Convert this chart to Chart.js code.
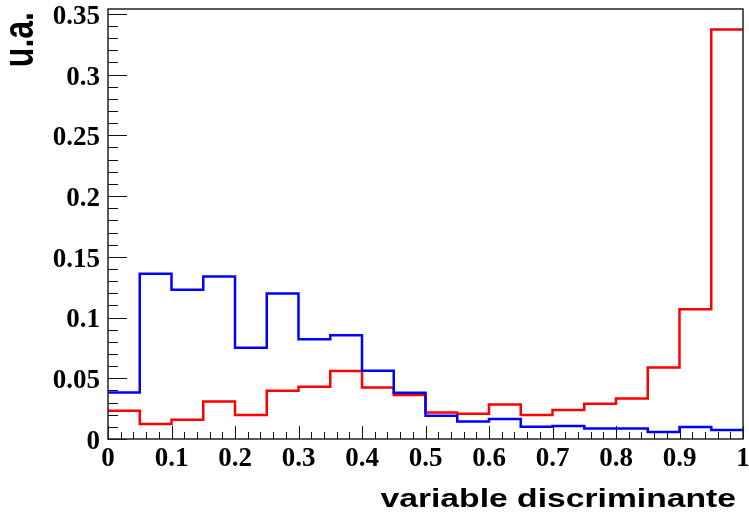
<!DOCTYPE html>
<html>
<head>
<meta charset="utf-8">
<script src="https://cdn.jsdelivr.net/npm/chart.js@4.4.1/dist/chart.umd.min.js"></script>
<style>
  html, body { margin: 0; padding: 0; background: #fff; }
</style>
</head>
<body>
<canvas id="histChart" width="749" height="512"></canvas>
<script>
// lower edges of the 20 bins, 0 -> 1
const binLow = [0, 0.05, 0.1, 0.15, 0.2, 0.25, 0.3, 0.35, 0.4, 0.45,
                0.5, 0.55, 0.6, 0.65, 0.7, 0.75, 0.8, 0.85, 0.9, 0.95];
const binHigh = 1;

// red histogram
const redValues = [0.0233, 0.0123, 0.0159, 0.0309, 0.0197, 0.0397, 0.0430, 0.0559, 0.0424, 0.0362,
                   0.0219, 0.0208, 0.0285, 0.0197, 0.0238, 0.0290, 0.0334, 0.0589, 0.1069, 0.3372];
// blue histogram
const blueValues = [0.0383, 0.1360, 0.1228, 0.1337, 0.0751, 0.1197, 0.0822, 0.0855, 0.0562, 0.0381,
                    0.0192, 0.0145, 0.0164, 0.0101, 0.0107, 0.0087, 0.0087, 0.0058, 0.0099, 0.0074];

const xTicks = [0, 0.1, 0.2, 0.3, 0.4, 0.5, 0.6, 0.7, 0.8, 0.9, 1];
const yTicks = [0, 0.05, 0.1, 0.15, 0.2, 0.25, 0.3, 0.35];

const xTitle = 'variable discriminante';
const yTitle = 'u.a.';

// histogram as step line: one point per bin low edge + closing point at upper edge
const toSteps = (vals) => binLow.map((x, i) => ({ x, y: vals[i] }))
  .concat([{ x: binHigh, y: vals[vals.length - 1] }]);

const tickFont = { family: '"Liberation Serif", "DejaVu Serif", serif', size: 27, weight: 'bold' };

// ROOT style frame, inner ticks and axis titles
const rootFrame = {
  id: 'rootFrame',
  beforeDatasetsDraw(chart) {
    const { ctx, chartArea: a, scales: { x, y } } = chart;
    ctx.save();
    ctx.strokeStyle = '#111';
    ctx.lineWidth = 1;
    ctx.beginPath();
    for (let i = 0; i <= 35; i++) {
      const py = Math.round(y.getPixelForValue(i / 100)) + 0.5;
      const len = i % 5 === 0 ? 19 : 10;
      ctx.moveTo(a.left, py);
      ctx.lineTo(a.left + len, py);
    }
    for (let i = 0; i <= 50; i++) {
      const px = Math.round(x.getPixelForValue(i / 50)) + 0.5;
      const len = i % 5 === 0 ? 13 : 7;
      ctx.moveTo(px, a.bottom);
      ctx.lineTo(px, a.bottom - len);
    }
    ctx.stroke();
    ctx.restore();
  },
  afterDatasetsDraw(chart) {
    const { ctx, chartArea: a } = chart;
    ctx.save();
    ctx.strokeStyle = '#222';
    ctx.lineWidth = 1.5;
    ctx.strokeRect(a.left, a.top, a.right - a.left, a.bottom - a.top);
    ctx.restore();

    // titles come out wide in the original, stretch them sideways
    ctx.save();
    ctx.fillStyle = '#000';
    ctx.textAlign = 'right';
    ctx.textBaseline = 'alphabetic';
    ctx.font = 'bold 26px "Liberation Sans", Arial, sans-serif';
    ctx.translate(736, 507);
    ctx.scale(1.295, 1);
    ctx.fillText(xTitle, 0, 0);
    ctx.restore();

    ctx.save();
    ctx.fillStyle = '#000';
    ctx.textAlign = 'right';
    ctx.textBaseline = 'alphabetic';
    ctx.font = 'bold 32px "Liberation Sans", Arial, sans-serif';
    ctx.translate(33, 12);
    ctx.scale(1.3, 1);
    ctx.rotate(-Math.PI / 2);
    ctx.fillText(yTitle, 0, 0);
    ctx.restore();
  }
};

new Chart(document.getElementById('histChart'), {
  type: 'line',
  data: {
    datasets: [
      {
        label: 'blue',
        data: toSteps(blueValues),
        borderColor: '#0000ff',
        borderWidth: 2.5,
        stepped: 'before',
        pointRadius: 0,
        fill: false
      },
      {
        label: 'red',
        data: toSteps(redValues),
        borderColor: '#ff0000',
        borderWidth: 2.5,
        stepped: 'before',
        pointRadius: 0,
        fill: false
      }
    ]
  },
  options: {
    responsive: false,
    animation: false,
    layout: { padding: { left: 0, top: 9, right: 6, bottom: 0 } },
    plugins: {
      legend: { display: false },
      tooltip: { enabled: false }
    },
    scales: {
      x: {
        type: 'linear',
        min: 0,
        max: 1,
        afterBuildTicks: (scale) => { scale.ticks = xTicks.map((v) => ({ value: v })); },
        afterFit: (scale) => {
          scale.height = 73;
          scale.paddingLeft = 0;
          scale.paddingRight = 0;
        },
        grid: { display: false, drawTicks: false },
        border: { display: false },
        ticks: {
          font: tickFont,
          color: '#000',
          padding: 4,
          maxRotation: 0,
          callback: (v) => String(v)
        }
      },
      y: {
        type: 'linear',
        min: 0,
        max: 0.354,
        afterBuildTicks: (scale) => { scale.ticks = yTicks.map((v) => ({ value: v })); },
        afterFit: (scale) => {
          scale.width = 108;
          scale.paddingTop = 0;
          scale.paddingBottom = 0;
        },
        grid: { display: false, drawTicks: false },
        border: { display: false },
        ticks: {
          font: tickFont,
          color: '#000',
          padding: 8,
          labelOffset: 3,
          callback: (v) => String(v)
        }
      }
    }
  },
  plugins: [rootFrame]
});
</script>
</body>
</html>
